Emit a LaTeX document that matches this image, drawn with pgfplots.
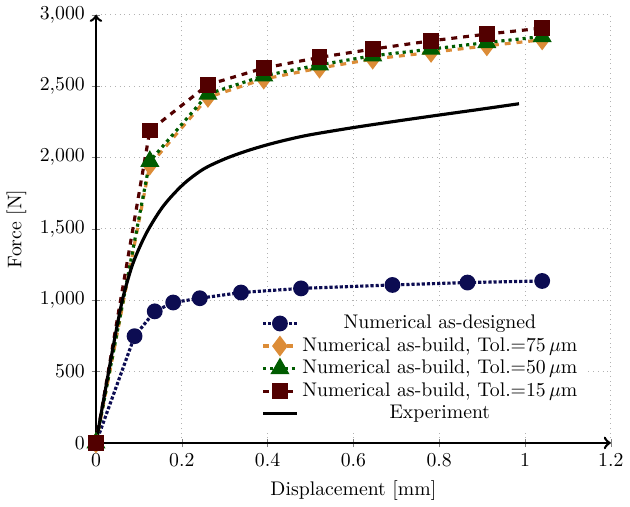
\documentclass[border=0pt]{standalone}
\usepackage{pgfplots}
\pgfplotsset{compat=1.18}
\definecolor{cnavy}{RGB}{12,12,82}
\definecolor{corange}{RGB}{220,140,55}
\definecolor{cgreen}{RGB}{0,92,0}
\definecolor{cdred}{RGB}{82,0,0}
\begin{document}
\begin{tikzpicture}
\begin{axis}[
  scale only axis,
  width=261pt, height=217pt,
  axis lines=left,
  axis line style={line width=1.3pt, ->},
  xmin=0, xmax=1.2, ymin=0, ymax=3000,
  xtick={0,0.2,0.4,0.6,0.8,1,1.2},
  ytick={0,500,1000,1500,2000,2500,3000},
  grid=major,
  major grid style={dotted, gray!60},
  xlabel={Displacement [mm]},
  ylabel={Force [N]},
  legend cell align=center,
  legend style={at={(0.955,0.03)}, anchor=south east, draw=none, fill=white, font=\normalsize, row sep=-1pt},
  clip=false,
]
\addplot[cnavy, line width=1.6pt, densely dotted, mark=*, mark size=3.2pt, mark options={solid}] coordinates {
(0,0) (0.09,748) (0.137,922) (0.18,984) (0.242,1014) (0.338,1054) (0.478,1083) (0.691,1107) (0.866,1124) (1.040,1135)};
\addlegendentry{Numerical as-designed}
\addplot[corange, line width=1.6pt, dashed, mark=diamond*, mark size=4pt, mark options={solid}] coordinates {
(0,0) (0.1256,1948) (0.261,2422) (0.391,2550) (0.521,2627) (0.645,2690) (0.781,2737) (0.911,2783) (1.040,2825)};
\addlegendentry{Numerical as-build, Tol.=75\,$\mu$m}
\addplot[cgreen, line width=1.6pt, dotted, mark=triangle*, mark size=4pt, mark options={solid}] coordinates {
(0,0) (0.1256,1974) (0.261,2445) (0.391,2573) (0.521,2650) (0.645,2713) (0.781,2760) (0.911,2806) (1.040,2848)};
\addlegendentry{Numerical as-build, Tol.=50\,$\mu$m}
\addplot[cdred, line width=1.6pt, dashed, mark=square*, mark size=3.2pt, mark options={solid}] coordinates {
(0,0) (0.1256,2189) (0.261,2510) (0.391,2627) (0.521,2702) (0.645,2760) (0.781,2818) (0.911,2865) (1.040,2907)};
\addlegendentry{Numerical as-build, Tol.=15\,$\mu$m}
\addplot[black, line width=1.6pt, smooth, tension=0.5, no marks] coordinates {
(0,0) (0.016,272) (0.0326,550) (0.048,800) (0.0635,1025) (0.0868,1263) (0.118,1473) (0.157,1660) (0.203,1811) (0.25,1918) (0.3,1990) (0.35,2045) (0.4,2090) (0.45,2128) (0.5,2160) (0.6,2210) (0.7,2255) (0.8,2298) (0.9,2340) (0.986,2377)};
\addlegendentry{Experiment}
\end{axis}
\end{tikzpicture}
\end{document}
